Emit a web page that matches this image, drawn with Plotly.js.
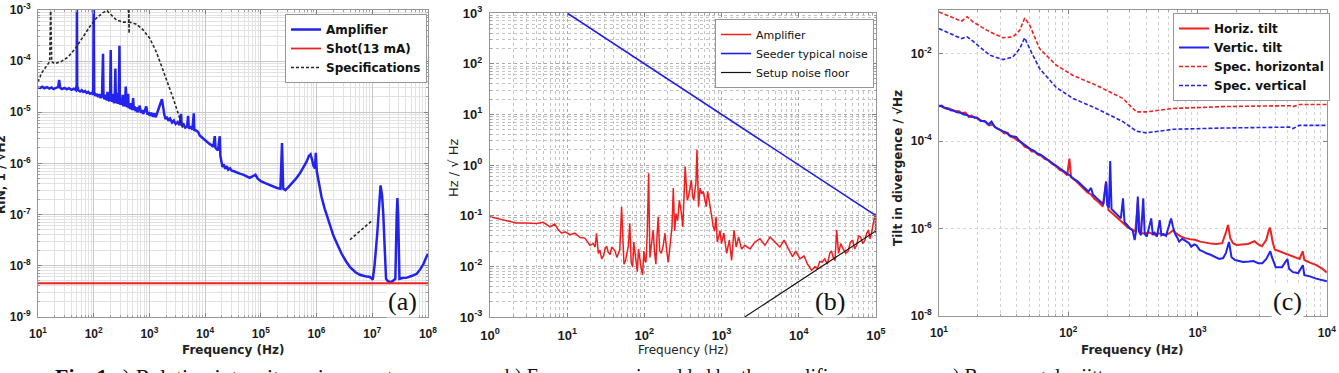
<!DOCTYPE html>
<html>
<head>
<meta charset="utf-8">
<script src="https://cdn.plot.ly/plotly-3.0.1.min.js"></script>
<style>
  html, body { margin: 0; padding: 0; background: #fff; }
  #chart { width: 1339px; height: 373px; }
</style>
</head>
<body>
<div id="chart"></div>
<script>
// ---------- (a) Relative intensity noise ----------
const aFreq = [10, 11, 12, 13, 14.5, 16, 17.5, 19, 21, 23, 24, 25, 27, 30, 33, 36, 40, 44, 48, 49.5, 50, 50.5, 53, 57, 61, 65, 70, 75, 80, 86, 92, 98, 100, 102, 107, 113, 120, 127, 134, 141, 147, 150, 157, 165, 172, 177, 182, 190, 197, 202, 206, 214, 222, 230, 238, 245, 250, 258, 266, 274, 282, 290, 295, 303, 312, 322, 332, 340, 350, 362, 376, 382, 392, 402, 415, 425, 440, 455, 470, 490, 510, 525, 545, 565, 590, 610, 640, 670, 700, 740, 780, 830, 880, 920, 970, 1020, 1080, 1150, 1220, 1300, 1380, 1480, 1580, 1680, 1760, 1850, 1950, 2050, 2200, 2350, 2550, 2750, 2950, 3200, 3450, 3700, 3800, 4100, 4400, 4750, 4950, 5100, 5500, 5900, 6260, 6400, 6900, 7500, 8000, 9000, 10000, 11000, 12000, 12800, 14000, 14900, 15400, 17000, 18300, 18800, 19500, 20500, 21500, 23000, 24500, 26000, 28000, 30000, 33000, 37000, 42000, 48000, 55000, 63000, 72000, 80000, 88000, 100000, 120000, 140000, 165000, 195000, 225000, 240000, 252000, 275000, 310000, 360000, 420000, 500000, 580000, 660000, 730000, 780000, 830000, 880000, 940000, 970000, 1010000, 1100000, 1230000, 1400000, 1620000, 2000000, 2400000, 2820000, 3400000, 4000000, 5000000, 6000000, 7500000, 9100000, 10200000, 11000000, 12300000, 13300000, 14100000, 15000000, 15800000, 16800000, 17700000, 19000000, 21000000, 23500000, 26000000, 27500000, 28300000, 29200000, 30800000, 35000000, 42000000, 52000000, 63000000, 73000000, 83000000, 92000000, 100000000];
const aAmplifier = [3.05e-5, 3.0e-5, 3.15e-5, 2.95e-5, 3.1e-5, 2.9e-5, 3.05e-5, 2.85e-5, 3.0e-5, 3.1e-5, 4.3e-5, 3.0e-5, 2.85e-5, 3.0e-5, 2.8e-5, 2.95e-5, 2.75e-5, 2.9e-5, 2.7e-5, 3.5e-5, 2.0e-3, 3.3e-5, 2.7e-5, 2.55e-5, 2.7e-5, 2.5e-5, 2.6e-5, 2.4e-5, 2.5e-5, 2.3e-5, 2.4e-5, 2.2e-5, 2.0e-3, 2.5e-5, 2.1e-5, 2.3e-5, 2.0e-5, 2.25e-5, 1.9e-5, 2.1e-5, 1.4e-4, 2.0e-5, 1.8e-5, 2.2e-5, 1.7e-5, 2.5e-5, 1.8e-5, 1.65e-5, 2.0e-5, 1.65e-4, 1.9e-5, 1.6e-5, 2.3e-5, 1.5e-5, 1.9e-5, 7.2e-5, 1.8e-5, 1.5e-5, 2.4e-5, 1.45e-5, 1.8e-5, 2.0e-4, 1.9e-5, 1.4e-5, 1.9e-5, 1.4e-5, 2.2e-5, 1.3e-5, 1.8e-5, 1.3e-5, 3.2e-5, 1.4e-5, 1.25e-5, 1.7e-5, 2.3e-5, 1.2e-5, 1.45e-5, 1.15e-5, 1.5e-5, 1.1e-5, 1.9e-5, 1.1e-5, 1.3e-5, 1.05e-5, 1.25e-5, 1.0e-5, 1.2e-5, 1.35e-5, 9.8e-6, 1.1e-5, 9.3e-6, 1.15e-5, 1.3e-5, 9.0e-6, 1.0e-5, 8.5e-6, 9.8e-6, 8.2e-6, 9.5e-6, 8.0e-6, 1.0e-5, 1.3e-5, 1.5e-5, 1.8e-5, 1.2e-5, 9.0e-6, 7.3e-6, 8.2e-6, 6.8e-6, 7.5e-6, 6.3e-6, 6.9e-6, 5.9e-6, 6.4e-6, 5.6e-6, 9.3e-6, 5.4e-6, 5.8e-6, 5.0e-6, 5.3e-6, 8.5e-6, 4.8e-6, 5.1e-6, 4.6e-6, 9.5e-6, 4.5e-6, 4.4e-6, 4.1e-6, 3.5e-6, 3.1e-6, 2.8e-6, 2.6e-6, 2.4e-6, 2.3e-6, 2.1e-6, 3.4e-6, 2.0e-6, 1.8e-6, 3.4e-6, 1.4e-6, 1.1e-6, 8.5e-7, 9.5e-7, 7.8e-7, 8.8e-7, 7.5e-7, 8.0e-7, 7.2e-7, 7.0e-7, 6.6e-7, 6.3e-7, 6.0e-7, 5.6e-7, 5.2e-7, 5.6e-7, 6.0e-7, 5.0e-7, 4.5e-7, 4.1e-7, 3.8e-7, 3.5e-7, 3.3e-7, 3.2e-7, 2.5e-6, 3.2e-7, 3.0e-7, 3.4e-7, 4.0e-7, 4.9e-7, 6.3e-7, 8.3e-7, 1.07e-6, 1.4e-6, 1.5e-6, 1.2e-6, 9.0e-7, 8.0e-7, 1.6e-6, 7.0e-7, 4.0e-7, 2.2e-7, 1.3e-7, 7.6e-8, 3.9e-8, 2.5e-8, 1.7e-8, 1.2e-8, 9.3e-9, 7.4e-9, 6.6e-9, 6.2e-9, 6.0e-9, 5.3e-9, 1.0e-8, 4.2e-8, 1.9e-7, 3.7e-7, 2.4e-7, 1.0e-7, 2.0e-8, 5.5e-9, 5.0e-9, 4.7e-9, 5.0e-9, 5.5e-9, 1.0e-7, 2.1e-7, 1.0e-7, 5.5e-9, 5.7e-9, 5.8e-9, 6.3e-9, 6.9e-9, 8.5e-9, 1.07e-8, 1.4e-8, 1.7e-8];
const aShotFreq = [10, 100000000];
const aShot = [4.5e-9, 4.5e-9];
const aSpecFreq = [10, 11.5, 14.1, 16.2, 16.9, 17.6, 19.9, 26, 34.6, 45.5, 64.5, 84.7, 111, 147, 174, 208, 255, 335, 414, 425, 428, 431, 434, 584, 770, 1014, 1336, 1760, 2170, 2680, 3300, 3760, 4000, 4000, 3980000, 10000000];
const aSpec = [3.9e-5, 5.8e-5, 7.9e-5, 9.8e-5, 1.2e-3, 9.8e-5, 8.9e-5, 9.8e-5, 1.2e-4, 1.7e-4, 3.0e-4, 4.7e-4, 6.9e-4, 8.9e-4, 9.7e-4, 8.0e-4, 6.4e-4, 5.8e-4, 5.8e-4, 5.8e-4, 1.2e-3, 3.5e-4, 5.8e-4, 5.3e-4, 4.1e-4, 2.8e-4, 1.5e-4, 6.6e-5, 3.6e-5, 1.86e-5, 9.4e-6, 6.0e-6, 4.8e-6, null, 3.2e-8, 7.6e-8];
const aXTicks = [1e1, 1e2, 1e3, 1e4, 1e5, 1e6, 1e7, 1e8];
const aXLabels = ['10<sup>1</sup>', '10<sup>2</sup>', '10<sup>3</sup>', '10<sup>4</sup>', '10<sup>5</sup>', '10<sup>6</sup>', '10<sup>7</sup>', '10<sup>8</sup>'];
const aYTicks = [1e-9, 1e-8, 1e-7, 1e-6, 1e-5, 1e-4, 1e-3];
const aYLabels = ['10<sup>-9</sup>', '10<sup>-8</sup>', '10<sup>-7</sup>', '10<sup>-6</sup>', '10<sup>-5</sup>', '10<sup>-4</sup>', '10<sup>-3</sup>'];

// ---------- (b) Frequency noise ----------
const bFreq = [1, 1.22, 1.64, 2.2, 3.0, 4.0, 4.9, 6.0, 6.9, 7.7, 8.5, 9.4, 10.9, 12.6, 14.7, 17, 19.7, 21.8, 23, 24, 25.3, 26.5, 28, 29.5, 31, 32.5, 34, 36, 37.7, 39.5, 41.7, 44, 46, 48, 50.7, 52.5, 54.4, 57, 59, 62, 64.7, 67.5, 70.5, 73, 75.8, 78.5, 81, 84, 87.6, 91, 95, 98.5, 102, 105, 109, 113.5, 118, 124, 130, 135, 141, 146, 151, 158, 166, 175, 185, 195, 204, 219, 228, 237, 247, 257, 270, 284, 300, 315, 327, 338, 349, 360, 375, 390, 406, 422, 437, 452, 466, 480, 490, 503, 527, 552, 580, 610, 635, 660, 690, 722, 750, 780, 815, 850, 880, 910, 955, 1000, 1070, 1165, 1260, 1350, 1450, 1550, 1660, 1820, 2000, 2340, 2700, 3150, 3650, 4250, 4900, 5700, 6450, 7330, 8300, 9150, 10350, 11700, 13000, 14700, 16200, 17500, 18700, 20000, 21700, 23500, 25200, 26500, 28000, 29500, 31000, 32800, 35000, 37700, 40500, 43700, 46800, 50000, 53000, 56400, 59500, 63300, 67500, 72000, 76000, 80000, 84000, 87600, 92300, 97700, 100000];
const bAmplifier = [0.095, 0.089, 0.079, 0.072, 0.072, 0.070, 0.074, 0.060, 0.068, 0.052, 0.045, 0.048, 0.042, 0.045, 0.037, 0.036, 0.026, 0.028, 0.024, 0.045, 0.018, 0.021, 0.014, 0.016, 0.022, 0.025, 0.019, 0.017, 0.024, 0.022, 0.020, 0.015, 0.018, 0.021, 0.15, 0.05, 0.011, 0.013, 0.018, 0.025, 0.070, 0.012, 0.0098, 0.03, 0.018, 0.011, 0.0078, 0.022, 0.013, 0.009, 0.0068, 0.02, 0.013, 0.012, 0.045, 0.69, 0.015, 0.03, 0.052, 0.02, 0.011, 0.04, 0.095, 0.02, 0.018, 0.025, 0.045, 0.02, 0.012, 0.033, 0.06, 0.35, 0.05, 0.11, 0.08, 0.20, 0.12, 0.060, 0.2, 0.93, 0.4, 0.20, 0.25, 0.37, 0.5, 0.24, 0.2, 0.32, 0.45, 2.0, 0.25, 0.15, 0.35, 0.27, 0.3, 0.20, 0.15, 0.30, 0.18, 0.13, 0.09, 0.060, 0.05, 0.095, 0.03, 0.038, 0.05, 0.028, 0.045, 0.018, 0.033, 0.013, 0.052, 0.024, 0.038, 0.022, 0.026, 0.022, 0.030, 0.035, 0.026, 0.038, 0.030, 0.024, 0.033, 0.022, 0.0155, 0.020, 0.014, 0.016, 0.011, 0.0083, 0.0098, 0.009, 0.0125, 0.012, 0.014, 0.011, 0.018, 0.02, 0.015, 0.013, 0.052, 0.018, 0.028, 0.022, 0.018, 0.020, 0.03, 0.033, 0.022, 0.026, 0.04, 0.038, 0.028, 0.033, 0.045, 0.052, 0.035, 0.045, 0.070, 0.11, 0.045];
const bSeederFreq = [10, 100000];
const bSeeder = [1000, 0.1];
const bFloorFreq = [1500, 100000];
const bFloor = [7.5e-4, 0.05];
const bXTicks = [1e0, 1e1, 1e2, 1e3, 1e4, 1e5];
const bXLabels = ['10<sup>0</sup>', '10<sup>1</sup>', '10<sup>2</sup>', '10<sup>3</sup>', '10<sup>4</sup>', '10<sup>5</sup>'];
const bYTicks = [1e-3, 1e-2, 1e-1, 1e0, 1e1, 1e2, 1e3];
const bYLabels = ['10<sup>-3</sup>', '10<sup>-2</sup>', '10<sup>-1</sup>', '10<sup>0</sup>', '10<sup>1</sup>', '10<sup>2</sup>', '10<sup>3</sup>'];

// ---------- (c) Beam angular jitter ----------
const cHorizFreq = [10, 10.5, 11, 11.5, 12, 12.7, 13.5, 14.2, 15, 16, 17, 17.8, 19, 20, 21.5, 23, 24.5, 26, 28, 30, 32, 34, 36, 38, 40, 43, 46, 49, 52, 55, 58, 62, 66, 70, 75, 80, 86, 92, 98, 102, 105, 112, 120, 130, 140, 150, 160, 172, 185, 196, 205, 220, 236, 252, 270, 290, 310, 330, 345, 360, 390, 420, 460, 500, 550, 600, 645, 690, 740, 800, 870, 950, 1050, 1150, 1270, 1400, 1550, 1660, 1720, 1790, 1880, 2000, 2200, 2450, 2760, 2950, 3150, 3400, 3550, 3620, 3700, 3800, 3950, 4300, 4850, 5500, 6150, 6500, 6700, 7400, 8300, 9200, 10000];
const cHoriz = [6.6e-4, 6.2e-4, 6.0e-4, 5.5e-4, 5.6e-4, 5.2e-4, 4.8e-4, 4.9e-4, 4.4e-4, 4.5e-4, 3.6e-4, 3.9e-4, 3.4e-4, 3.3e-4, 2.9e-4, 2.8e-4, 2.3e-4, 2.4e-4, 1.95e-4, 1.8e-4, 1.5e-4, 1.55e-4, 1.25e-4, 1.2e-4, 1.05e-4, 9.5e-5, 7.5e-5, 7.0e-5, 5.8e-5, 5.9e-5, 4.9e-5, 4.6e-5, 3.9e-5, 3.7e-5, 3.0e-5, 2.7e-5, 2.2e-5, 2.0e-5, 1.65e-5, 4.0e-5, 1.5e-5, 1.3e-5, 1.05e-5, 8.5e-6, 6.8e-6, 6.0e-6, 4.7e-6, 4.0e-6, 3.2e-6, 1.2e-5, 2.6e-6, 2.2e-6, 1.8e-6, 1.5e-6, 1.25e-6, 1.05e-6, 9.5e-7, 8.5e-7, 4.1e-6, 8.0e-7, 7.6e-7, 8.2e-7, 7.2e-7, 7.8e-7, 7.0e-7, 7.6e-7, 9.1e-7, 7.5e-7, 6.6e-7, 6.0e-7, 5.7e-7, 5.5e-7, 5.0e-7, 4.7e-7, 4.5e-7, 4.4e-7, 4.6e-7, 8.3e-7, 1.2e-6, 6.0e-7, 4.6e-7, 4.2e-7, 4.3e-7, 4.4e-7, 5.1e-7, 4.3e-7, 3.9e-7, 5.5e-7, 9.0e-7, 1.05e-6, 8.0e-7, 5.0e-7, 3.3e-7, 3.0e-7, 2.7e-7, 2.3e-7, 2.0e-7, 3.0e-7, 1.9e-7, 1.65e-7, 1.45e-7, 1.2e-7, 9.8e-8];
const cVertFreq = [10, 10.5, 11, 11.6, 12.3, 13, 13.8, 14.6, 15.5, 16.5, 17.5, 18.5, 19.6, 21, 22.5, 24, 25.5, 27, 29, 31, 33, 35, 37, 39.5, 42, 45, 48, 51, 54, 57, 61, 65, 69, 74, 79, 85, 91, 97, 104, 111, 118, 126, 134, 143, 150, 155, 165, 176, 187, 196, 200, 206, 211, 216, 225, 240, 255, 265, 272, 285, 300, 315, 326, 335, 345, 352, 365, 380, 390, 405, 420, 438, 450, 465, 485, 510, 525, 545, 570, 600, 624, 645, 670, 700, 720, 760, 810, 860, 893, 940, 980, 1040, 1100, 1170, 1260, 1370, 1470, 1580, 1660, 1750, 1830, 1950, 2100, 2250, 2500, 2700, 2950, 3170, 3400, 3550, 3650, 3760, 4020, 4500, 4950, 5100, 5460, 6000, 6520, 6700, 7400, 8270, 9200, 10000];
const cVert = [6.3e-4, 6.5e-4, 5.8e-4, 5.7e-4, 5.1e-4, 5.0e-4, 4.6e-4, 4.5e-4, 4.1e-4, 4.0e-4, 3.6e-4, 3.5e-4, 3.5e-4, 2.9e-4, 2.9e-4, 2.4e-4, 2.8e-4, 2.1e-4, 1.85e-4, 1.7e-4, 1.6e-4, 1.35e-4, 1.3e-4, 1.25e-4, 1.0e-4, 8.6e-5, 7.6e-5, 6.6e-5, 6.1e-5, 5.3e-5, 4.9e-5, 4.3e-5, 3.8e-5, 3.3e-5, 2.9e-5, 2.5e-5, 2.1e-5, 1.9e-5, 1.6e-5, 1.35e-5, 1.2e-5, 1.0e-5, 8.5e-6, 7.0e-6, 8.5e-6, 6.0e-6, 5.0e-6, 4.2e-6, 3.6e-6, 1.17e-5, 3.4e-6, 3.0e-6, 3.5e-5, 2.8e-6, 2.5e-6, 2.0e-6, 1.7e-6, 4.9e-6, 1.4e-6, 1.2e-6, 1.0e-6, 9.0e-7, 5.4e-7, 9.0e-7, 5.4e-6, 8.5e-7, 7.0e-7, 4.9e-6, 7.5e-7, 6.5e-7, 1.1e-6, 1.7e-6, 7.5e-7, 8.0e-7, 6.5e-7, 1.56e-6, 7.0e-7, 7.5e-7, 6.8e-7, 1.2e-6, 1.7e-6, 1.1e-6, 7.5e-7, 6.0e-7, 5.0e-7, 5.8e-7, 5.2e-7, 4.6e-7, 3.8e-7, 4.3e-7, 4.1e-7, 3.2e-7, 3.0e-7, 2.7e-7, 2.5e-7, 2.2e-7, 2.0e-7, 2.1e-7, 2.8e-7, 4.9e-7, 2.2e-7, 1.9e-7, 1.8e-7, 1.7e-7, 1.75e-7, 1.8e-7, 1.6e-7, 1.6e-7, 2.0e-7, 2.7e-7, 3.0e-7, 2.2e-7, 1.3e-7, 1.3e-7, 2.0e-7, 1.2e-7, 1.0e-7, 9.5e-8, 1.44e-7, 8.5e-8, 8.0e-8, 7.1e-8, 6.6e-8, 6.2e-8];
const cSpecFreq = [10, 14.9, 16.5, 18.3, 24.7, 31.3, 37.3, 42.1, 46, 50.2, 60, 80.7, 109, 165, 265, 336, 401, 645, 1570, 5140, 5460, 6150, 10000];
const cSpecHoriz = [0.091, 0.056, 0.071, 0.054, 0.032, 0.0234, 0.0245, 0.0347, 0.066, 0.046, 0.0132, 0.0055, 0.0032, 0.0019, 9.5e-4, 4.7e-4, 4.7e-4, 5.6e-4, 6.2e-4, 6.5e-4, 6.2e-4, 6.9e-4, 6.9e-4];
const cSpecVert = [0.038, 0.0224, 0.0245, 0.0195, 0.0093, 0.0074, 0.0085, 0.0132, 0.0234, 0.0132, 0.0046, 0.0017, 9.5e-4, 5.6e-4, 2.8e-4, 1.7e-4, 1.55e-4, 1.87e-4, 2.0e-4, 2.1e-4, 1.95e-4, 2.3e-4, 2.3e-4];
const cXTicks = [1e1, 1e2, 1e3, 1e4];
const cXLabels = ['10<sup>1</sup>', '10<sup>2</sup>', '10<sup>3</sup>', '10<sup>4</sup>'];
const cYTicks = [1e-8, 1e-6, 1e-4, 1e-2];
const cYLabels = ['10<sup>-8</sup>', '10<sup>-6</sup>', '10<sup>-4</sup>', '10<sup>-2</sup>'];

const W = 1339, H = 373;
const px = x => x / W;          // pixel column -> paper x
const py = y => 1 - y / H;      // pixel row -> paper y

const SANS = 'Liberation Sans, Arial, sans-serif';
const WIDE = 'DejaVu Sans, Verdana, sans-serif';
const SERIF = 'Liberation Serif, Times New Roman, serif';
const BLUE = 'rgb(35,35,235)';
const RED = 'rgb(235,35,35)';

// 2..9 x 10^k positions for the minor grid of a log axis
function minorGrid(lo, hi) {
  const v = [];
  for (let k = lo; k < hi; k++) for (let m = 2; m <= 9; m++) v.push(m * Math.pow(10, k));
  return v;
}

function logAxis(extra) {
  return Object.assign({
    type: 'log', tickmode: 'array',
    showline: true, mirror: 'ticks', linecolor: 'rgb(150,150,150)', linewidth: 1,
    ticks: 'inside', ticklen: 4, tickcolor: 'rgb(130,130,130)',
    tickfont: { family: SANS, size: 12, color: '#1a1a1a', weight: 'bold' },
    zeroline: false, fixedrange: true
  }, extra);
}

const traces = [
  { x: aFreq, y: aAmplifier, name: 'Amplifier', xaxis: 'x', yaxis: 'y', legend: 'legend',
    mode: 'lines', line: { color: BLUE, width: 2.5 } },
  { x: aShotFreq, y: aShot, name: 'Shot(13 mA)', xaxis: 'x', yaxis: 'y', legend: 'legend',
    mode: 'lines', line: { color: RED, width: 1.8 } },
  { x: aSpecFreq, y: aSpec, name: 'Specifications', xaxis: 'x', yaxis: 'y', legend: 'legend',
    mode: 'lines', connectgaps: false, line: { color: 'rgb(40,40,40)', width: 1.6, dash: '3px,2px' } },

  { x: bFreq, y: bAmplifier, name: 'Amplifier', xaxis: 'x2', yaxis: 'y2', legend: 'legend2',
    mode: 'lines', line: { color: 'rgb(240,30,30)', width: 1.5 } },
  { x: bSeederFreq, y: bSeeder, name: 'Seeder typical noise', xaxis: 'x2', yaxis: 'y2', legend: 'legend2',
    mode: 'lines', line: { color: 'rgb(30,30,230)', width: 1.6 } },
  { x: bFloorFreq, y: bFloor, name: 'Setup noise floor', xaxis: 'x2', yaxis: 'y2', legend: 'legend2',
    mode: 'lines', line: { color: 'rgb(20,20,20)', width: 1.2 } },

  { x: cHorizFreq, y: cHoriz, name: 'Horiz. tilt', xaxis: 'x3', yaxis: 'y3', legend: 'legend3',
    mode: 'lines', line: { color: RED, width: 2 } },
  { x: cVertFreq, y: cVert, name: 'Vertic. tilt', xaxis: 'x3', yaxis: 'y3', legend: 'legend3',
    mode: 'lines', line: { color: BLUE, width: 2 } },
  { x: cSpecFreq, y: cSpecHoriz, name: 'Spec. horizontal', xaxis: 'x3', yaxis: 'y3', legend: 'legend3',
    mode: 'lines', line: { color: RED, width: 1.6, dash: '4px,2px' } },
  { x: cSpecFreq, y: cSpecVert, name: 'Spec. vertical', xaxis: 'x3', yaxis: 'y3', legend: 'legend3',
    mode: 'lines', line: { color: BLUE, width: 1.6, dash: '4px,2px' } }
];

function gridA(lo, hi) {
  return { showgrid: true, gridcolor: 'rgb(200,200,200)',
    minor: { tickmode: 'array', tickvals: minorGrid(lo, hi), showgrid: true, gridcolor: 'rgb(226,226,226)',
      ticks: 'inside', ticklen: 2, tickcolor: 'rgb(160,160,160)' } };
}
function gridB(lo, hi) {
  return { showgrid: true, gridcolor: 'rgb(170,170,170)', griddash: 'dot',
    minor: { tickmode: 'array', tickvals: minorGrid(lo, hi), showgrid: true, gridcolor: 'rgb(195,195,195)', griddash: 'dot',
      ticks: 'inside', ticklen: 2, tickcolor: 'rgb(160,160,160)' } };
}

const legendBase = {
  xanchor: 'left', yanchor: 'top', bgcolor: '#fff',
  bordercolor: 'rgb(150,150,150)', borderwidth: 1, itemwidth: 30,
  tracegroupgap: 0
};

const layout = {
  width: W, height: H,
  margin: { l: 0, r: 0, t: 0, b: 0 },
  paper_bgcolor: '#fff', plot_bgcolor: '#fff',
  showlegend: true,
  xaxis: logAxis(Object.assign({ domain: [px(38), px(428)], range: [1, 8.001], anchor: 'y',
    tickvals: aXTicks, ticktext: aXLabels, ticklabelstandoff: 6 }, gridA(1, 8))),
  yaxis: logAxis(Object.assign({ domain: [py(316.7), py(10)], range: [-9.001, -2.999], anchor: 'x',
    tickvals: aYTicks, ticktext: aYLabels, ticklabelstandoff: 4 }, gridA(-9, -3))),
  xaxis2: logAxis(Object.assign({ domain: [px(490), px(876)], range: [0, 5.001], anchor: 'y2',
    tickvals: bXTicks, ticktext: bXLabels, ticklabelstandoff: 6,
    tickfont: { family: SANS, size: 13, color: '#1a1a1a', weight: 'bold' } }, gridB(0, 5))),
  yaxis2: logAxis(Object.assign({ domain: [py(317), py(13)], range: [-3.001, 3.001], anchor: 'x2',
    tickvals: bYTicks, ticktext: bYLabels, ticklabelstandoff: 4,
    tickfont: { family: SANS, size: 13, color: '#1a1a1a', weight: 'bold' } }, gridB(-3, 3))),
  xaxis3: logAxis({ domain: [px(939), px(1327)], range: [1, 4.001], anchor: 'y3',
    tickvals: cXTicks, ticktext: cXLabels, ticklabelstandoff: 6,
    showgrid: true, gridcolor: 'rgb(210,210,210)', griddash: 'dot',
    minor: { tickmode: 'array', tickvals: minorGrid(1, 4), showgrid: true, gridcolor: 'rgb(210,210,210)', griddash: 'dot',
      ticks: 'inside', ticklen: 2, tickcolor: 'rgb(160,160,160)' } }),
  yaxis3: logAxis({ domain: [py(316), py(10)], range: [-8.005, -0.995], anchor: 'x3',
    tickvals: cYTicks, ticktext: cYLabels, ticklabelstandoff: 4,
    showgrid: true, gridcolor: 'rgb(215,215,215)', griddash: 'dot' }),

  legend: Object.assign({}, legendBase, { x: px(285), y: py(14),
    font: { family: WIDE, size: 12, color: '#111', weight: 'bold' } }),
  legend2: Object.assign({}, legendBase, { x: px(715), y: py(19),
    font: { family: WIDE, size: 11, color: '#111' } }),
  legend3: Object.assign({}, legendBase, { x: px(1173), y: py(13),
    font: { family: WIDE, size: 12, color: '#111', weight: 'bold' } }),

  annotations: [
    // axis titles
    { text: '<b>Frequency (Hz)</b>', x: px(233), y: py(350), xref: 'paper', yref: 'paper',
      xanchor: 'center', yanchor: 'middle', showarrow: false, font: { family: WIDE, size: 12, color: '#222' } },
    { text: 'Frequency (Hz)', x: px(683), y: py(350), xref: 'paper', yref: 'paper',
      xanchor: 'center', yanchor: 'middle', showarrow: false, font: { family: WIDE, size: 12, color: '#222' } },
    { text: '<b>Frequency (Hz)</b>', x: px(1132), y: py(350), xref: 'paper', yref: 'paper',
      xanchor: 'center', yanchor: 'middle', showarrow: false, font: { family: WIDE, size: 12, color: '#222' } },
    { text: '<b>RIN, 1 / √Hz</b>', x: px(1), y: py(175), xref: 'paper', yref: 'paper',
      xanchor: 'center', yanchor: 'middle', textangle: -90, showarrow: false, font: { family: WIDE, size: 12, color: '#222' } },
    { text: 'Hz / √ Hz', x: px(453), y: py(168), xref: 'paper', yref: 'paper',
      xanchor: 'center', yanchor: 'middle', textangle: -90, showarrow: false, font: { family: WIDE, size: 13, color: '#222' } },
    { text: '<b>Tilt in divergence / √Hz</b>', x: px(898), y: py(168), xref: 'paper', yref: 'paper',
      xanchor: 'center', yanchor: 'middle', textangle: -90, showarrow: false, font: { family: WIDE, size: 12, color: '#222' } },
    // panel tags
    { text: '(a)', x: px(403), y: py(301), xref: 'paper', yref: 'paper', xanchor: 'center', yanchor: 'middle',
      showarrow: false, bgcolor: '#fff', font: { family: SERIF, size: 26, color: '#111' } },
    { text: '(b)', x: px(830), y: py(301), xref: 'paper', yref: 'paper', xanchor: 'center', yanchor: 'middle',
      showarrow: false, bgcolor: '#fff', font: { family: SERIF, size: 26, color: '#111' } },
    { text: '(c)', x: px(1287), y: py(301), xref: 'paper', yref: 'paper', xanchor: 'center', yanchor: 'middle',
      showarrow: false, bgcolor: '#fff', font: { family: SERIF, size: 26, color: '#111' } },
    // figure caption, its lower half runs past the bottom edge
    { text: '<b>Fig. 1</b> a) Relative intensity noise spectrum ;', x: px(53), y: py(376),
      xref: 'paper', yref: 'paper', xanchor: 'left', yanchor: 'middle', showarrow: false,
      font: { family: SERIF, size: 22, color: '#111' } },
    { text: 'b) Frequency noise added by the amplifier ;', x: px(503), y: py(376),
      xref: 'paper', yref: 'paper', xanchor: 'left', yanchor: 'middle', showarrow: false,
      font: { family: SERIF, size: 20, color: '#111' } },
    { text: 'c) Beam angular jitter', x: px(942), y: py(376),
      xref: 'paper', yref: 'paper', xanchor: 'left', yanchor: 'middle', showarrow: false,
      font: { family: SERIF, size: 20, color: '#111' } }
  ]
};

Plotly.newPlot('chart', traces, layout, { displayModeBar: false, staticPlot: true });
</script>
</body>
</html>
